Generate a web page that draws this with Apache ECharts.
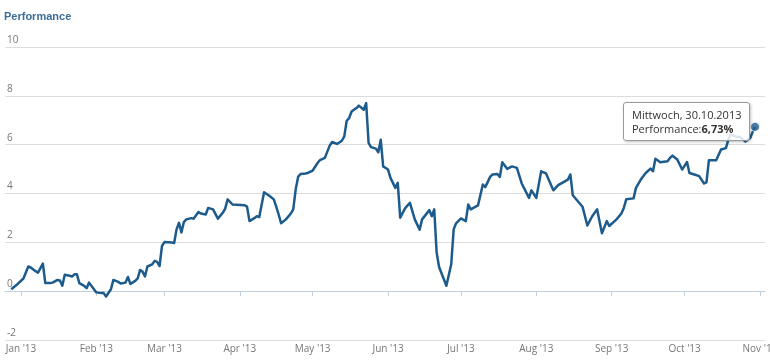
<!DOCTYPE html>
<html>
<head>
<meta charset="utf-8">
<script src="https://cdn.jsdelivr.net/npm/echarts@6/dist/echarts.min.js"></script>
<style>
html,body{margin:0;padding:0;background:#fff;}
#chart{width:770px;height:364px;}
</style>
</head>
<body>
<div id="chart"></div>
<script>
// ---- data ----
var dates = [
'2012-12-28','2012-12-30','2013-01-02','2013-01-04','2013-01-05','2013-01-07','2013-01-08','2013-01-10','2013-01-11','2013-01-13',
'2013-01-14','2013-01-16','2013-01-17','2013-01-18','2013-01-19','2013-01-21','2013-01-22','2013-01-23','2013-01-24','2013-01-25',
'2013-01-27','2013-01-28','2013-01-29','2013-01-31','2013-02-01','2013-02-03','2013-02-04','2013-02-05','2013-02-07','2013-02-08',
'2013-02-10','2013-02-11','2013-02-13','2013-02-14','2013-02-15','2013-02-17','2013-02-18','2013-02-19','2013-02-20','2013-02-21',
'2013-02-22','2013-02-24','2013-02-25','2013-02-26','2013-02-27','2013-02-28','2013-03-01','2013-03-04','2013-03-05','2013-03-06',
'2013-03-07','2013-03-08','2013-03-09','2013-03-10','2013-03-12','2013-03-13','2013-03-15','2013-03-16','2013-03-18','2013-03-19',
'2013-03-21','2013-03-23','2013-03-25','2013-03-26','2013-03-27','2013-03-29','2013-04-03','2013-04-04','2013-04-05','2013-04-07',
'2013-04-08','2013-04-09','2013-04-11','2013-04-13','2013-04-15','2013-04-16','2013-04-17','2013-04-18','2013-04-20','2013-04-22',
'2013-04-23','2013-04-24','2013-04-25','2013-04-26','2013-04-28','2013-04-29','2013-05-01','2013-05-03','2013-05-04','2013-05-06',
'2013-05-08','2013-05-09','2013-05-11','2013-05-13','2013-05-14','2013-05-15','2013-05-16','2013-05-17','2013-05-19','2013-05-20',
'2013-05-22','2013-05-23','2013-05-24','2013-05-25','2013-05-27','2013-05-28','2013-05-29','2013-05-30','2013-06-01','2013-06-02',
'2013-06-04','2013-06-05','2013-06-06','2013-06-08','2013-06-10','2013-06-12','2013-06-14','2013-06-15','2013-06-18','2013-06-19',
'2013-06-20','2013-06-21','2013-06-22','2013-06-25','2013-06-27','2013-06-28','2013-06-29','2013-07-01','2013-07-03','2013-07-04',
'2013-07-05','2013-07-08','2013-07-10','2013-07-11','2013-07-13','2013-07-14','2013-07-16','2013-07-17','2013-07-18','2013-07-20',
'2013-07-22','2013-07-24','2013-07-26','2013-07-29','2013-07-30','2013-08-01','2013-08-03','2013-08-05','2013-08-08','2013-08-10',
'2013-08-14','2013-08-15','2013-08-16','2013-08-20','2013-08-22','2013-08-24','2013-08-26','2013-08-28','2013-08-30','2013-08-31',
'2013-09-03','2013-09-05','2013-09-06','2013-09-07','2013-09-10','2013-09-11','2013-09-13','2013-09-15','2013-09-17','2013-09-18',
'2013-09-19','2013-09-21','2013-09-24','2013-09-25','2013-09-26','2013-09-28','2013-09-30','2013-10-02','2013-10-03','2013-10-05',
'2013-10-07','2013-10-09','2013-10-10','2013-10-11','2013-10-14','2013-10-16','2013-10-18','2013-10-19','2013-10-20','2013-10-22',
'2013-10-24','2013-10-26','2013-10-28','2013-10-29','2013-10-30'
];
var performance = [
0.08,0.24,0.52,1.01,0.97,0.82,0.76,1.13,0.33,0.33,
0.35,0.46,0.44,0.22,0.67,0.63,0.60,0.69,0.69,0.33,
0.22,0.12,0.35,0.08,-0.05,-0.08,-0.08,-0.22,0.08,0.46,
0.38,0.31,0.35,0.58,0.30,0.42,0.52,0.87,0.80,0.60,
1.01,1.10,1.24,1.20,1.03,1.85,2.01,1.99,1.97,2.53,
2.80,2.40,2.83,2.94,2.99,2.97,3.24,3.18,3.14,3.41,
3.35,2.97,3.21,3.38,3.76,3.55,3.52,3.46,2.87,2.99,
3.07,3.03,4.05,3.92,3.76,3.46,3.14,2.78,2.94,3.18,
3.35,4.16,4.68,4.80,4.82,4.84,4.94,5.25,5.37,5.46,
5.96,6.11,6.03,6.16,6.34,6.98,7.09,7.36,7.50,7.60,
7.43,7.70,6.07,5.90,5.84,5.69,6.20,5.11,4.98,4.64,
4.23,4.44,3.01,3.39,3.62,2.94,2.52,2.94,3.32,3.07,
3.35,1.58,0.99,0.22,1.10,2.53,2.78,2.98,2.87,3.55,
3.35,3.51,4.37,4.26,4.68,4.78,4.80,4.68,5.28,5.01,
5.11,5.05,4.41,3.82,4.13,3.82,4.91,4.82,4.13,4.34,
4.57,4.78,3.93,3.46,2.69,3.07,3.35,2.37,2.87,2.67,
2.94,3.18,3.41,3.76,3.80,4.23,4.57,4.84,5.02,4.91,
5.42,5.28,5.32,5.46,5.55,5.39,4.98,5.29,4.84,4.78,
4.71,4.41,4.46,5.36,5.36,5.80,5.86,6.20,6.41,6.34,
6.30,6.13,6.27,6.52,6.73
];
var monthNames = ['Jan','Feb','Mar','Apr','May','Jun','Jul','Aug','Sep','Oct','Nov','Dec'];
var weekdayNames = ['Sonntag','Montag','Dienstag','Mittwoch','Donnerstag','Freitag','Samstag'];
var yTicks = [-2, 0, 2, 4, 6, 8, 10];
var xRange = ['2012-12-25T10:00:00Z', '2013-11-03T02:00:00Z'];

function toUTC(s) { var p = s.split('-'); return Date.UTC(+p[0], +p[1] - 1, +p[2]); }
var seriesData = dates.map(function (d, i) { return [toUTC(d), performance[i]]; });
var last = seriesData[seriesData.length - 1];

function pad2(n) { return (n < 10 ? '0' : '') + n; }
function tipText(p) {
  var d = new Date(p[0]);
  return weekdayNames[d.getUTCDay()] + ', ' + pad2(d.getUTCDate()) + '.' + pad2(d.getUTCMonth() + 1) + '.' + d.getUTCFullYear() +
    '<br/>Performance:<b>' + p[1].toFixed(2).replace('.', ',') + '%</b>';
}

var chart = echarts.init(document.getElementById('chart'), null, {renderer: 'canvas'});
var option = {
  animation: false,
  useUTC: true,
  backgroundColor: '#ffffff',
  title: {
    text: 'Performance',
    left: 4, top: 11, padding: 0,
    textStyle: {fontFamily: 'Liberation Sans, Arial', fontSize: 11, fontWeight: 'bold', color: '#3a6d99'}
  },
  grid: {left: 5, right: 5, top: 47, bottom: 24, containLabel: false, outerBoundsMode: 'none'},
  tooltip: {
    trigger: 'item',
    alwaysShowContent: true,
    transitionDuration: 0,
    showDelay: 0,
    backgroundColor: 'rgba(255,255,255,0.85)',
    borderColor: '#9a9a9a',
    borderWidth: 1,
    borderRadius: 3,
    padding: [5, 8, 4, 8],
    textStyle: {fontFamily: 'Open Sans', fontSize: 11, color: '#333333', lineHeight: 14},
    extraCssText: 'box-shadow:1px 1px 3px rgba(0,0,0,0.25);white-space:nowrap;',
    position: function (pt) { return [pt[0] - 132, pt[1] - 25]; },
    formatter: function (params) { return tipText(params.data); }
  },
  xAxis: {
    type: 'time',
    min: xRange[0],
    max: xRange[1],
    splitNumber: 10,
    minInterval: 28 * 86400000,
    maxInterval: 31 * 86400000,
    axisLine: {show: true, lineStyle: {color: '#c0d0e0', width: 1}},
    axisTick: {show: true, length: 5, lineStyle: {color: '#c0d0e0'}},
    splitLine: {show: false},
    axisLabel: {
      fontFamily: 'Open Sans', fontSize: 10, color: '#777777', margin: 4,
      hideOverlap: false,
      formatter: function (v) {
        var d = new Date(v);
        return monthNames[d.getUTCMonth()] + " '" + String(d.getUTCFullYear()).slice(2);
      }
    }
  },
  yAxis: {
    type: 'value',
    min: yTicks[0],
    max: yTicks[yTicks.length - 1],
    interval: 2,
    axisLine: {show: false},
    axisTick: {show: false},
    splitLine: {show: true, lineStyle: {color: '#dcdcdc', width: 1}},
    axisLabel: {
      inside: true, showMinLabel: true, showMaxLabel: true,
      align: 'left', verticalAlign: 'bottom', margin: 2, padding: [0, 0, 2, 0],
      fontFamily: 'Open Sans', fontSize: 10, color: '#777777'
    }
  },
  series: [
    {
      type: 'line',
      data: seriesData,
      showSymbol: false,
      symbol: 'none',
      lineStyle: {color: '#1d5b8c', width: 2.5, join: 'round'},
      itemStyle: {color: '#1d5b8c'},
      tooltip: {show: false},
      emphasis: {disabled: true},
      silent: true
    },
    {
      type: 'scatter',
      data: [last],
      symbol: 'circle',
      symbolSize: 9,
      itemStyle: {color: '#1d5b8c', borderColor: '#ffffff', borderWidth: 1},
      emphasis: {scale: false},
      z: 5
    }
  ]
};
chart.setOption(option);
chart.dispatchAction({type: 'showTip', seriesIndex: 1, dataIndex: 0});
</script>
</body>
</html>
